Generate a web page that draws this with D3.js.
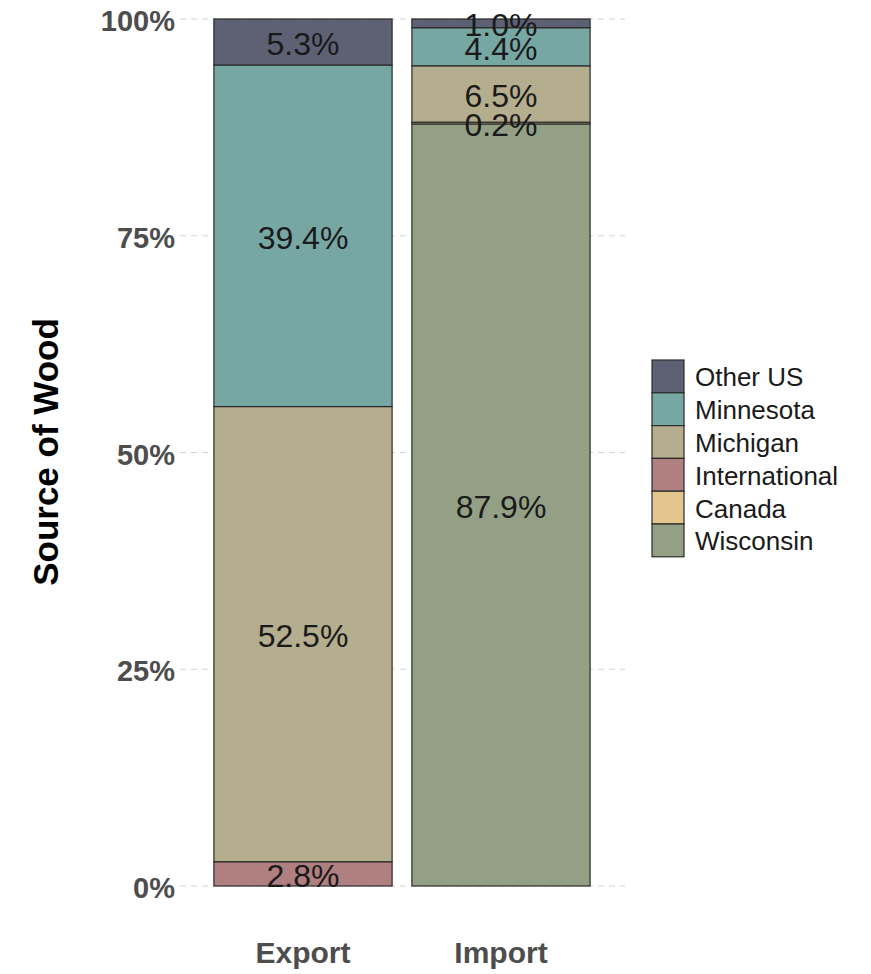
<!DOCTYPE html>
<html><head><meta charset="utf-8">
<script src="https://cdn.jsdelivr.net/npm/d3@7"></script>
<style>body{margin:0;background:#fff}text{font-family:"Liberation Sans",Arial,sans-serif}</style>
</head><body>
<svg id="c" width="871" height="974"></svg>
<script>
const categories = ["Export", "Import"];
const sources = ["Wisconsin", "Canada", "International", "Michigan", "Minnesota", "Other US"];
const exportValues = [0, 0, 2.8, 52.5, 39.4, 5.3];
const importValues = [87.9, 0.2, 0, 6.5, 4.4, 1.0];
const colors = ["#93a085", "#e3c58e", "#b07f80", "#b4ad8e", "#77a7a3", "#5e6173"];
const yTicks = [0, 25, 50, 75, 100];
const legendOrder = ["Other US", "Minnesota", "Michigan", "International", "Canada", "Wisconsin"];

const svg = d3.select("#c");
const x = d3.scaleBand().domain(categories).range([204, 600]).paddingInner(0.1).paddingOuter(0.05);
const y = d3.scaleLinear().domain([0, 100]).range([886, 19]);
const color = d3.scaleOrdinal().domain(sources).range(colors);

// gridlines
svg.append("g").selectAll("line").data(yTicks).join("line")
  .attr("x1", 180).attr("x2", 625)
  .attr("y1", d => y(d)).attr("y2", d => y(d))
  .attr("stroke", "#d4d4d4").attr("stroke-width", 1).attr("stroke-dasharray", "6,5");

// y tick labels
svg.append("g").selectAll("text").data(yTicks).join("text")
  .attr("x", 175).attr("y", d => y(d) + 2)
  .attr("text-anchor", "end").attr("dominant-baseline", "central")
  .attr("font-size", 29).attr("font-weight", "bold").attr("fill", "#4d4d4d")
  .text(d => d + "%");

// stacked data
const rows = categories.map((c, i) => {
  const o = {cat: c};
  const vals = i === 0 ? exportValues : importValues;
  sources.forEach((s, j) => o[s] = vals[j]);
  return o;
});
const stack = d3.stack().keys(sources)(rows);

const g = svg.append("g");
stack.forEach(layer => {
  layer.forEach(seg => {
    const v = seg[1] - seg[0];
    if (v <= 0) return;
    g.append("rect")
      .attr("x", x(seg.data.cat)).attr("width", x.bandwidth())
      .attr("y", y(seg[1])).attr("height", y(seg[0]) - y(seg[1]))
      .attr("fill", color(layer.key)).attr("stroke", "#2b2b2b").attr("stroke-width", 1.2);
  });
});
stack.forEach(layer => {
  layer.forEach(seg => {
    const v = seg[1] - seg[0];
    if (v <= 0) return;
    g.append("text")
      .attr("x", x(seg.data.cat) + x.bandwidth() / 2)
      .attr("y", y((seg[0] + seg[1]) / 2) + 2)
      .attr("text-anchor", "middle").attr("dominant-baseline", "central")
      .attr("font-size", 32).attr("fill", "#1a1a1a")
      .text(v.toFixed(1) + "%");
  });
});

// x labels
svg.append("g").selectAll("text").data(categories).join("text")
  .attr("x", d => x(d) + x.bandwidth() / 2).attr("y", 952)
  .attr("text-anchor", "middle").attr("dominant-baseline", "central")
  .attr("font-size", 30).attr("font-weight", "bold").attr("fill", "#4d4d4d")
  .text(d => d);

// y title
svg.append("text")
  .attr("transform", "translate(45,452) rotate(-90)")
  .attr("text-anchor", "middle").attr("dominant-baseline", "central")
  .attr("font-size", 35).attr("font-weight", "bold").attr("fill", "#000")
  .text("Source of Wood");

// legend
const lg = svg.append("g");
const keyH = 32.8;
legendOrder.forEach((s, i) => {
  lg.append("rect").attr("x", 652).attr("y", 360 + i * keyH).attr("width", 32).attr("height", keyH)
    .attr("fill", color(s)).attr("stroke", "#2b2b2b").attr("stroke-width", 1.2);
  lg.append("text").attr("x", 695).attr("y", 360 + i * keyH + keyH / 2 + 1)
    .attr("dominant-baseline", "central").attr("font-size", 26).attr("fill", "#1a1a1a")
    .text(s);
});
</script>
</body></html>
